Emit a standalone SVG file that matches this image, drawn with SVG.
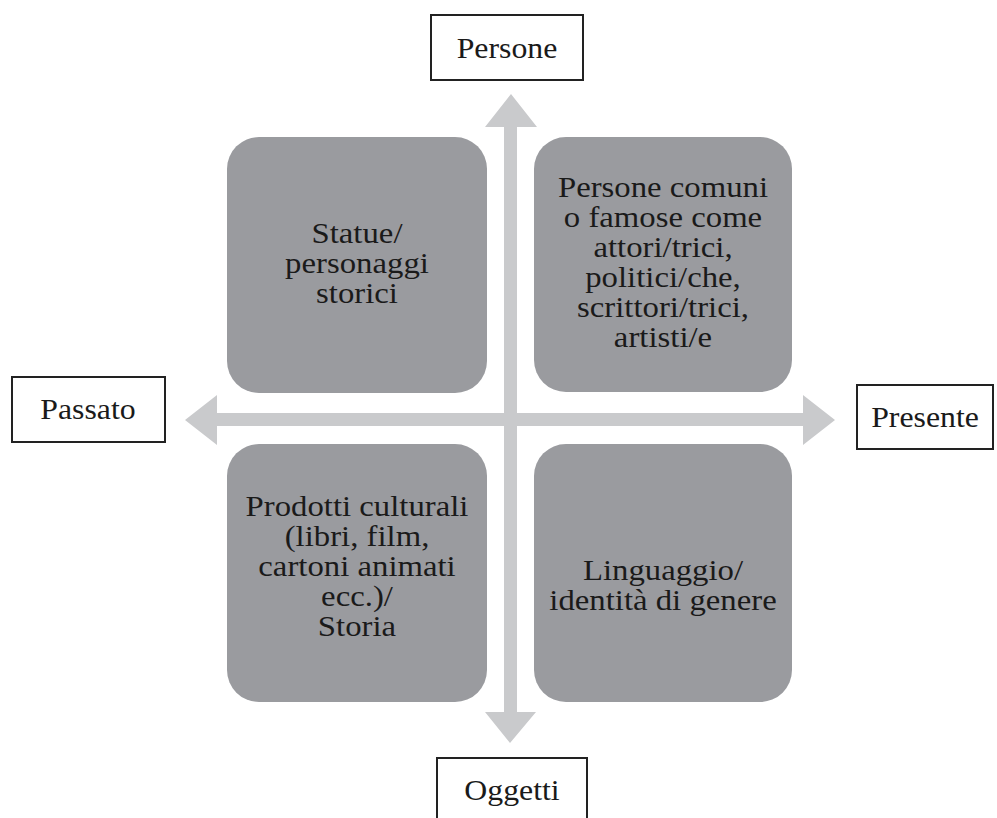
<svg xmlns="http://www.w3.org/2000/svg" width="997" height="818" viewBox="0 0 997 818">
<style>
.quad{fill:#9a9b9f}
.lbl{fill:#ffffff;stroke:#222;stroke-width:2}
.arrow{fill:#c9cacc}
.lt{font-size:30px}
.qt{font-size:29px}
</style>
<rect x="0" y="0" width="997" height="818" fill="#ffffff"/>
<g id="connectors">
<path class="arrow" d="M504,127 L485,127 L511,94 L537,127 L517,127 L517,712 L536,712 L510,743 L485,712 L504,712 Z"/>
<path class="arrow" d="M217,413 L217,395 L185,420 L217,445 L217,426 L803,426 L803,445 L835,420 L803,395 L803,413 Z"/>
</g>
<g font-family="'Liberation Serif', 'DejaVu Serif', 'Times New Roman', serif" fill="#1a1a1a" text-anchor="middle">
<g id="q-tl">
<rect class="quad" x="227" y="137" width="260" height="256" rx="32"/>
<g transform="translate(357 0) scale(1.13 1)">
<text class="qt" x="0" y="243">Statue/</text>
<text class="qt" x="0" y="273">personaggi</text>
<text class="qt" x="0" y="303">storici</text>
</g>
</g>
<g id="q-tr">
<rect class="quad" x="534" y="137" width="258" height="255" rx="32"/>
<g transform="translate(663 0) scale(1.13 1)">
<text class="qt" x="0" y="197">Persone comuni</text>
<text class="qt" x="0" y="227">o famose come</text>
<text class="qt" x="0" y="257">attori/trici,</text>
<text class="qt" x="0" y="287">politici/che,</text>
<text class="qt" x="0" y="317">scrittori/trici,</text>
<text class="qt" x="0" y="347">artisti/e</text>
</g>
</g>
<g id="q-bl">
<rect class="quad" x="227" y="444" width="260" height="258" rx="32"/>
<g transform="translate(357 0) scale(1.13 1)">
<text class="qt" x="0" y="516">Prodotti culturali</text>
<text class="qt" x="0" y="546">(libri, film,</text>
<text class="qt" x="0" y="576">cartoni animati</text>
<text class="qt" x="0" y="606">ecc.)/</text>
<text class="qt" x="0" y="636">Storia</text>
</g>
</g>
<g id="q-br">
<rect class="quad" x="534" y="444" width="258" height="258" rx="32"/>
<g transform="translate(663 0) scale(1.13 1)">
<text class="qt" x="0" y="580">Linguaggio/</text>
<text class="qt" x="0" y="610">identità di genere</text>
</g>
</g>
<g id="l-persone">
<rect class="lbl" x="431" y="15" width="152" height="65"/>
<text class="lt" transform="translate(507 0) scale(1.06 1)" x="0" y="58">Persone</text>
</g>
<g id="l-passato">
<rect class="lbl" x="12" y="377" width="153" height="65"/>
<text class="lt" transform="translate(88 0) scale(1.06 1)" x="0" y="419">Passato</text>
</g>
<g id="l-presente">
<rect class="lbl" x="857" y="385" width="136" height="64"/>
<text class="lt" transform="translate(925 0) scale(1.06 1)" x="0" y="427">Presente</text>
</g>
<g id="l-oggetti">
<rect class="lbl" x="437" y="758" width="150" height="66"/>
<text class="lt" transform="translate(512 0) scale(1.06 1)" x="0" y="800">Oggetti</text>
</g>
</g>
</svg>
